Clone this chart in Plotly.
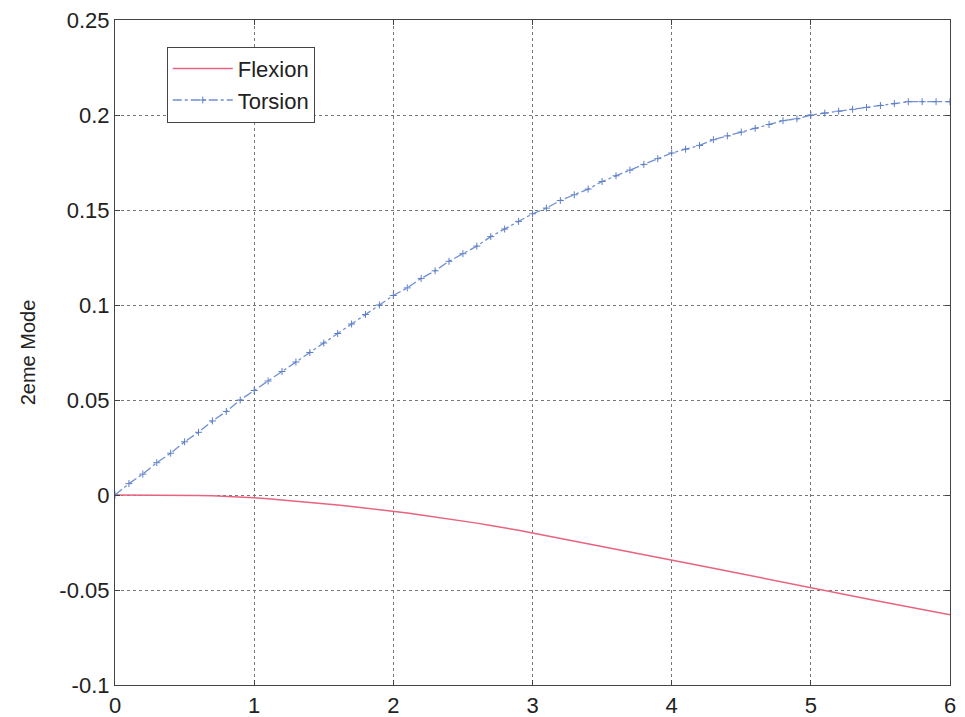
import plotly.graph_objects as go

x_vals = [round(i * 0.1, 1) for i in range(61)]

flexion = [0, 0, 0, 0, 0, 0, -0.0002, -0.0004, -0.0007, -0.0011,
           -0.0015, -0.0020, -0.0026, -0.0032, -0.0038, -0.0045, -0.0052, -0.0060, -0.0068, -0.0076,
           -0.0085, -0.0095, -0.0105, -0.0115, -0.0126, -0.0137, -0.0148, -0.0160, -0.0172, -0.0186,
           -0.0200, -0.0214, -0.0228, -0.0242, -0.0256, -0.0270, -0.0284, -0.0298, -0.0312, -0.0326,
           -0.0340, -0.0355, -0.0370, -0.0385, -0.0400, -0.0415, -0.0430, -0.0445, -0.0460, -0.0475,
           -0.0490, -0.0504, -0.0518, -0.0532, -0.0546, -0.0560, -0.0574, -0.0588, -0.0602, -0.0616,
           -0.0630]

torsion = [0.000, 0.006, 0.011, 0.017, 0.022, 0.028, 0.033, 0.039, 0.044, 0.050,
           0.055, 0.060, 0.065, 0.070, 0.075, 0.080, 0.085, 0.090, 0.095, 0.100,
           0.105, 0.109, 0.114, 0.118, 0.123, 0.127, 0.131, 0.136, 0.140, 0.144,
           0.148, 0.151, 0.155, 0.158, 0.161, 0.165, 0.168, 0.171, 0.174, 0.177,
           0.180, 0.182, 0.184, 0.187, 0.189, 0.191, 0.193, 0.195, 0.197, 0.198,
           0.200, 0.201, 0.202, 0.203, 0.204, 0.205, 0.206, 0.207, 0.207, 0.207,
           0.207]

x_ticks = [0, 1, 2, 3, 4, 5, 6]
y_ticks = [-0.1, -0.05, 0, 0.05, 0.1, 0.15, 0.2, 0.25]
y_tick_text = ["-0.1", "-0.05", "0", "0.05", "0.1", "0.15", "0.2", "0.25"]

FONT = "Liberation Sans, Arial, sans-serif"

fig = go.Figure()
fig.add_trace(go.Scatter(x=x_vals, y=flexion, mode="lines", name="Flexion",
                         line=dict(color="#e8637f", width=1.5)))
fig.add_trace(go.Scatter(x=x_vals, y=torsion, mode="lines+markers", name="Torsion",
                         line=dict(color="#6f8fd6", width=1.3, dash="dashdot"),
                         marker=dict(symbol="cross-thin", size=5,
                                     line=dict(color="#5f7fc6", width=1))))

axis_common = dict(showline=True, linecolor="#444444", linewidth=1.2, mirror="ticks",
                   ticks="inside", ticklen=5, tickcolor="#444444",
                   showgrid=True, gridcolor="#777777", griddash="dot", gridwidth=1,
                   zeroline=False, automargin=False,
                   tickfont=dict(family=FONT, size=22, color="#222222"))

fig.update_xaxes(range=[0, 6], tickvals=x_ticks, **axis_common)
fig.update_yaxes(range=[-0.1, 0.25], tickvals=y_ticks, ticktext=y_tick_text,
                 title=dict(text="2eme Mode", font=dict(family=FONT, size=20, color="#222222"),
                            standoff=18),
                 **axis_common)

fig.update_layout(
    width=965, height=717,
    margin=dict(l=115, r=15, t=20, b=32),
    plot_bgcolor="white", paper_bgcolor="white",
    legend=dict(x=0.062, y=0.96, xanchor="left", yanchor="top",
                bgcolor="white", bordercolor="#444444", borderwidth=1,
                font=dict(family=FONT, size=22, color="#222222"),
                itemwidth=60, tracegroupgap=6),
    showlegend=True,
)

fig.write_html("out.html")
